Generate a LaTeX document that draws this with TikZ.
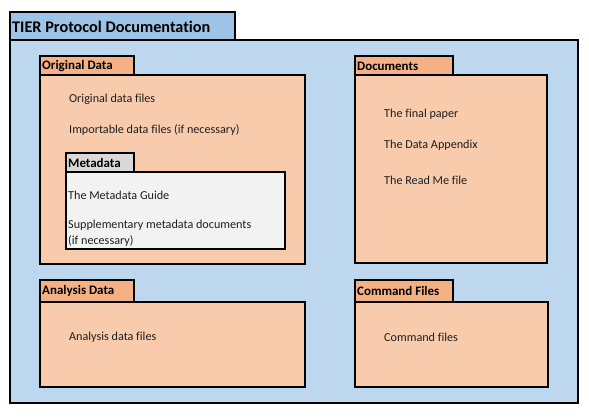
\documentclass[tikz,border=0pt]{standalone}
\usepackage{fontspec}
\setmainfont{Carlito}[Ligatures=NoCommon]
\definecolor{outerfill}{HTML}{BDD7EE}
\definecolor{titlefill}{HTML}{9DC3E6}
\definecolor{boxfill}{HTML}{F8CBAD}
\definecolor{tabfill}{HTML}{F4B183}
\definecolor{metafill}{HTML}{F2F2F2}
\definecolor{metatab}{HTML}{D9D9D9}
\tikzset{
  frame/.style={draw=black,line width=2.3bp},
  tablabel/.style={anchor=west,inner sep=0pt,font=\bfseries\fontsize{13}{15}\selectfont},
  item/.style={anchor=west,inner sep=0pt,font=\fontsize{12.2}{14}\selectfont,text=black!88},
}
\begin{document}
\begin{tikzpicture}[x=1bp,y=-1bp]
\useasboundingbox (0,0) rectangle (589,417);
% outer package
\draw[frame,fill=outerfill] (10,40) rectangle (578,403);
\draw[frame,fill=titlefill] (10,12) rectangle (235,40);
\node[anchor=west,inner sep=0pt,font=\bfseries\fontsize{16.3}{18}\selectfont] (title) at (12,27) {TIER Protocol Documentation};
% Original Data
\draw[frame,fill=boxfill] (40,75) rectangle (305,264);
\draw[frame,fill=tabfill] (40,56) rectangle (134,75);
\node[tablabel] (origlab) at (42,66) {Original Data};
\node[item] (orig1) at (69,99) {Original data files};
\node[item] (orig2) at (69,130) {Importable data files (if necessary)};
% Metadata
\draw[frame,fill=metafill] (66,172) rectangle (285,249);
\draw[frame,fill=metatab] (66,153) rectangle (134,172);
\node[tablabel] (metalab) at (68,163) {Metadata};
\node[item] (meta1) at (68,195.5) {The Metadata Guide};
\node[item] (meta2) at (68,225.5) {Supplementary metadata documents};
\node[item] (meta3) at (68,241.5) {(if necessary)};
% Documents
\draw[frame,fill=boxfill] (355,75) rectangle (547,263);
\draw[frame,fill=tabfill] (355,56) rectangle (453,75);
\node[tablabel] (doclab) at (357,66) {Documents};
\node[item] (doc1) at (384,114) {The final paper};
\node[item] (doc2) at (384,145) {The Data Appendix};
\node[item] (doc3) at (384,180) {The Read Me file};
% Analysis Data
\draw[frame,fill=boxfill] (40,302) rectangle (305,387);
\draw[frame,fill=tabfill] (40,280) rectangle (134,302);
\node[tablabel] (analab) at (42,291) {Analysis Data};
\node[item] (ana1) at (69,337) {Analysis data files};
% Command Files
\draw[frame,fill=boxfill] (355,302) rectangle (548,387);
\draw[frame,fill=tabfill] (355,280) rectangle (453,302);
\node[tablabel] (cmdlab) at (357,291) {Command Files};
\node[item] (cmd1) at (384,337) {Command files};
\end{tikzpicture}
\end{document}
